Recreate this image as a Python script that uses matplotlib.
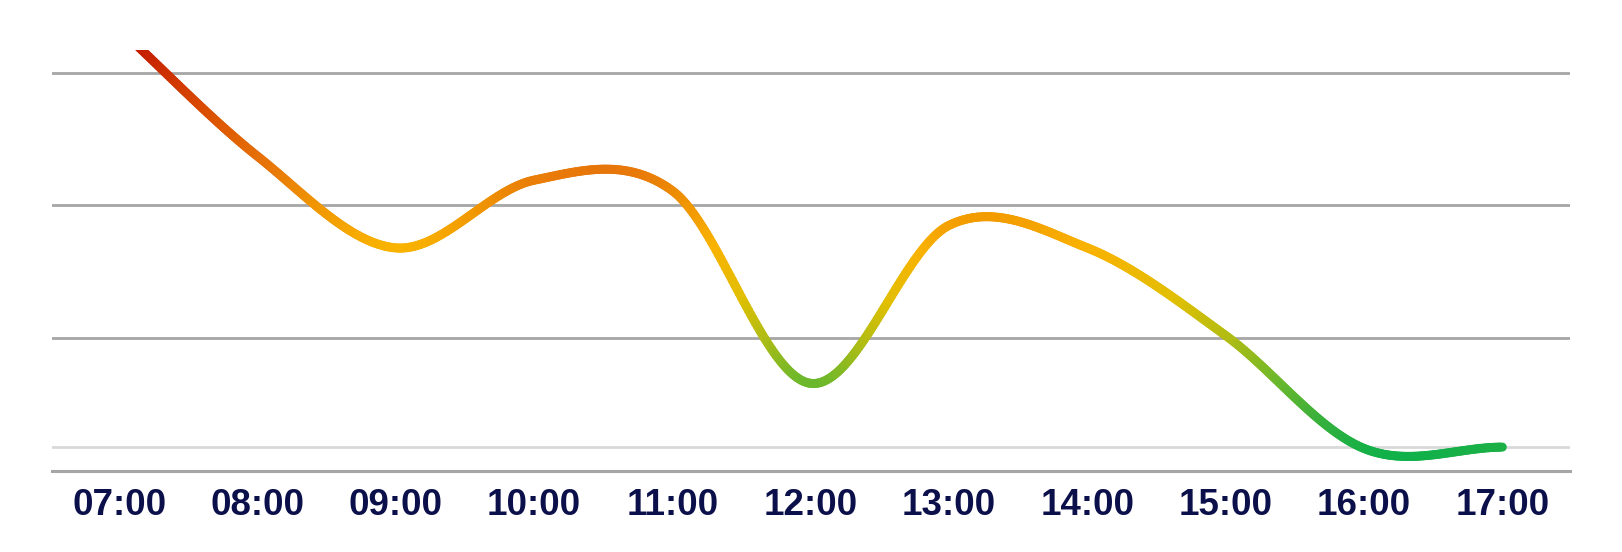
import numpy as np
import matplotlib
matplotlib.use('Agg')
import matplotlib.pyplot as plt
from matplotlib.collections import LineCollection
from matplotlib.colors import LinearSegmentedColormap

# Chart data
hours = ['07:00', '08:00', '09:00', '10:00', '11:00', '12:00',
         '13:00', '14:00', '15:00', '16:00', '17:00']
values = [3.33, 2.37, 1.68, 2.19, 2.11, 0.66, 1.85, 1.68, 1.02, 0.17, 0.18]
grid_levels = [1, 2, 3]
reference_level = 0.18


def smooth_curve(y, steps=60):
    # Catmull-Rom style smoothing (like a spreadsheet "smoothed line")
    y = np.asarray(y, dtype=float)
    n = len(y)
    m = np.zeros(n)
    m[1:-1] = (y[2:] - y[:-2]) / 2
    m[0] = y[1] - y[0]
    m[-1] = (y[-1] - y[-2]) / 2
    xs, ys = [], []
    for i in range(n - 1):
        t = np.linspace(0, 1, steps, endpoint=(i == n - 2))
        h00 = 2 * t**3 - 3 * t**2 + 1
        h10 = t**3 - 2 * t**2 + t
        h01 = -2 * t**3 + 3 * t**2
        h11 = t**3 - t**2
        xs.append(i + t)
        ys.append(h00 * y[i] + h10 * m[i] + h01 * y[i + 1] + h11 * m[i + 1])
    return np.concatenate(xs), np.concatenate(ys)


ymax = 3.17
cmap = LinearSegmentedColormap.from_list('trend', [
    (0.00, '#10b04a'),
    (0.26 / 3.1, '#38b03c'),
    (0.56 / 3.1, '#6cb82c'),
    (0.88 / 3.1, '#b0bc14'),
    (1.19 / 3.1, '#e2bf00'),
    (1.58 / 3.1, '#f9b200'),
    (1.90 / 3.1, '#f09400'),
    (2.16 / 3.1, '#e8780a'),
    (2.54 / 3.1, '#dc5400'),
    (1.00, '#c41a00'),
])

fig = plt.figure(figsize=(16.22, 5.52), dpi=100)
ax = fig.add_axes([0.0321, 0.1467, 0.9359, 0.7627])

for g in grid_levels:
    ax.axhline(g, color='#a6a6a6', lw=2.0, zorder=1)
ax.axhline(0, color='#a6a6a6', lw=2.2, zorder=1, clip_on=False)
ax.axhline(reference_level, color='#d9d9d9', lw=2.0, zorder=1)

xs, ys = smooth_curve(values)
pts = np.column_stack([xs, ys]).reshape(-1, 1, 2)
segs = np.concatenate([pts[:-1], pts[1:]], axis=1)
mid = (ys[:-1] + ys[1:]) / 2
lc = LineCollection(segs, cmap=cmap, norm=plt.Normalize(0.1, 3.2),
                    linewidths=6.5, capstyle='round', zorder=3)
lc.set_array(mid)
ax.add_collection(lc)

ax.set_xlim(-0.485, len(hours) - 1 + 0.49)
ax.set_ylim(0, ymax)
ax.set_xticks(range(len(hours)))
ax.set_xticklabels(hours, fontfamily='Liberation Sans', fontweight='bold',
                   fontsize=26.5, color='#0b0f4a')
ax.tick_params(axis='x', length=0, pad=12)
ax.set_yticks([])
for s in ax.spines.values():
    s.set_visible(False)

fig.savefig('out.png', dpi=100)
